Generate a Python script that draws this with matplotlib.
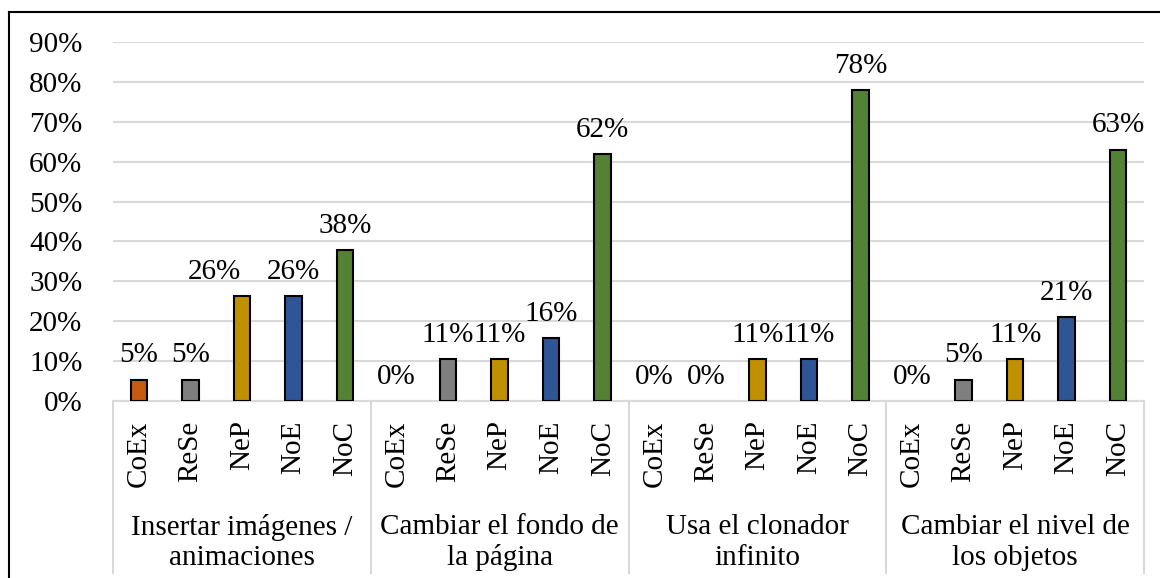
import matplotlib
matplotlib.use("Agg")
import matplotlib.pyplot as plt
from matplotlib.lines import Line2D
from matplotlib.transforms import blended_transform_factory

plt.rcParams['font.family'] = ['Liberation Serif', 'DejaVu Serif']

grupos = ["Insertar imágenes /\nanimaciones", "Cambiar el fondo de\nla página",
          "Usa el clonador\ninfinito", "Cambiar el nivel de\nlos objetos"]
series = ["CoEx", "ReSe", "NeP", "NoE", "NoC"]
colores = ["#C55A11", "#7F7F7F", "#BF9000", "#2F5597", "#548235"]

# valores por grupo (%), en el orden de series
insertar = [5.3, 5.3, 26.3, 26.3, 37.8]
fondo = [0, 10.53, 10.53, 15.8, 61.9]
clonador = [0, 0, 10.53, 10.53, 78.0]
nivel = [0, 5.3, 10.53, 21.0, 63.0]
valores = [insertar, fondo, clonador, nivel]

# etiqueta movida a mano en el original (grupo, serie) -> desplazamiento x en pt
ajustes = {(0, 2): -20}

fig = plt.figure(figsize=(11.6, 5.78), dpi=100)
W, H = 1160, 578
ax = fig.add_axes([113 / W, (H - 401) / H, (1144 - 113) / W, (401 - 42) / H])

n = len(series)
xs, etiquetas = [], []
for g, vals in enumerate(valores):
    for i, v in enumerate(vals):
        x = g * n + i
        ax.bar(x, v, width=0.32, color=colores[i], edgecolor="black",
               linewidth=1.5 if v > 0 else 0, zorder=3)
        ax.annotate(f"{v:.0f}%", (x, v), xytext=(ajustes.get((g, i), 0), 12.5),
                    textcoords="offset points", ha="center", va="baseline", fontsize=21)
        xs.append(x)
        etiquetas.append(series[i])

ax.set_xlim(-0.5, len(grupos) * n - 0.5)
ax.set_ylim(0, 90)
ax.set_yticks(range(0, 91, 10))
ax.set_yticklabels([f"{t}%" for t in range(0, 91, 10)], fontsize=21)
ax.yaxis.grid(True, color="#d9d9d9", linewidth=1.5, zorder=0)
ax.tick_params(axis="y", length=0, pad=22)
ax.set_xticks(xs)
ax.set_xticklabels(etiquetas, rotation=90, fontsize=21, va="top")
ax.tick_params(axis="x", length=0, pad=14)
for s in ["left", "right", "top"]:
    ax.spines[s].set_visible(False)
ax.spines["bottom"].set_color("#d9d9d9")
ax.spines["bottom"].set_linewidth(1.5)

tr = blended_transform_factory(ax.transData, ax.transAxes)
for g in range(len(grupos) + 1):
    xb = g * n - 0.5
    ax.add_line(Line2D([xb, xb], [0, -0.48], transform=tr, color="#d9d9d9",
                       linewidth=1.5, clip_on=False))
for g, nombre in enumerate(grupos):
    ax.text(g * n + (n - 1) / 2, -0.394, nombre, transform=tr, ha="center", va="center",
            fontsize=21, linespacing=1.22)

# marco exterior
fig.add_artist(Line2D([9 / W, 1], [(H - 12) / H] * 2, color="black", linewidth=1.5))
fig.add_artist(Line2D([9 / W] * 2, [0, (H - 12) / H], color="black", linewidth=1.5))

fig.savefig("out.png", dpi=100)
